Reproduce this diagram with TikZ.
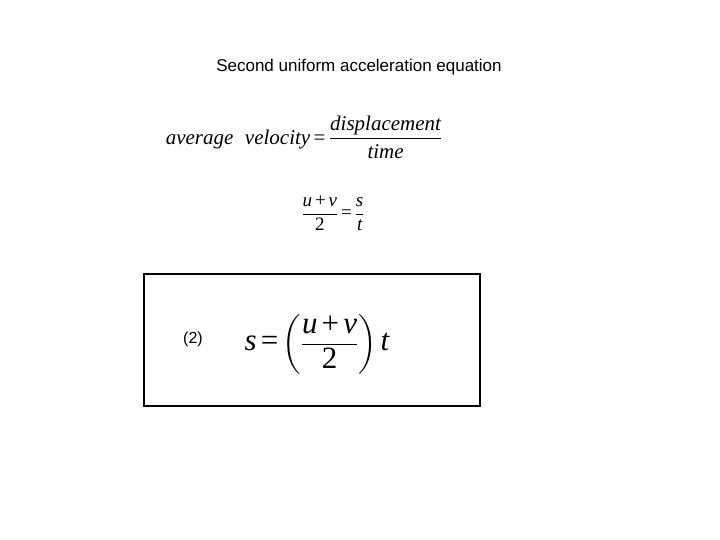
\documentclass[tikz,border=0pt]{standalone}
\usepackage{amsmath}
\usepackage{fontspec}
\setmainfont{Liberation Serif}
\newfontfamily\arialf{Liberation Sans}
\newcommand{\ti}[1]{\textit{#1}}
\newcommand{\tr}[1]{\textrm{#1}}
\begin{document}
\begin{tikzpicture}[x=1pt,y=-1pt,
  lbl/.style={inner sep=0pt,anchor=center},
  eqbox/.style={draw=black,line width=2.5pt}]
\useasboundingbox (0,0) rectangle (720,540);
\fill[white] (0,0) rectangle (720,540);
\node[lbl] (title) at (359,67) {\arialf\fontsize{17}{20}\selectfont Second uniform acceleration equation};
\node[lbl] (eq1) at (304,137) {\fontsize{21}{25}\selectfont
  $\ti{average}\;\;\ti{velocity}\,\tr{=}\,\dfrac{\ti{displacement}}{\ti{time}}$};
\node[lbl] (eq2) at (333,213) {\fontsize{19}{23}\selectfont
  $\dfrac{\ti{u}\,\tr{+}\,\ti{v}}{\tr{2}}\,\tr{=}\,\dfrac{\ti{s}}{\ti{t}}$};
\draw[eqbox] (144,274) rectangle (480,406);
\node[lbl] (num) at (193,339) {\arialf\fontsize{16}{19}\selectfont (2)};
\node[lbl] (eq3) at (317,344) {\fontsize{31}{36}\selectfont
  $\ti{s}\,\tr{=}\left(\dfrac{\ti{u}\,\tr{+}\,\ti{v}}{\tr{2}}\right)\ti{t}$};
\end{tikzpicture}
\end{document}
